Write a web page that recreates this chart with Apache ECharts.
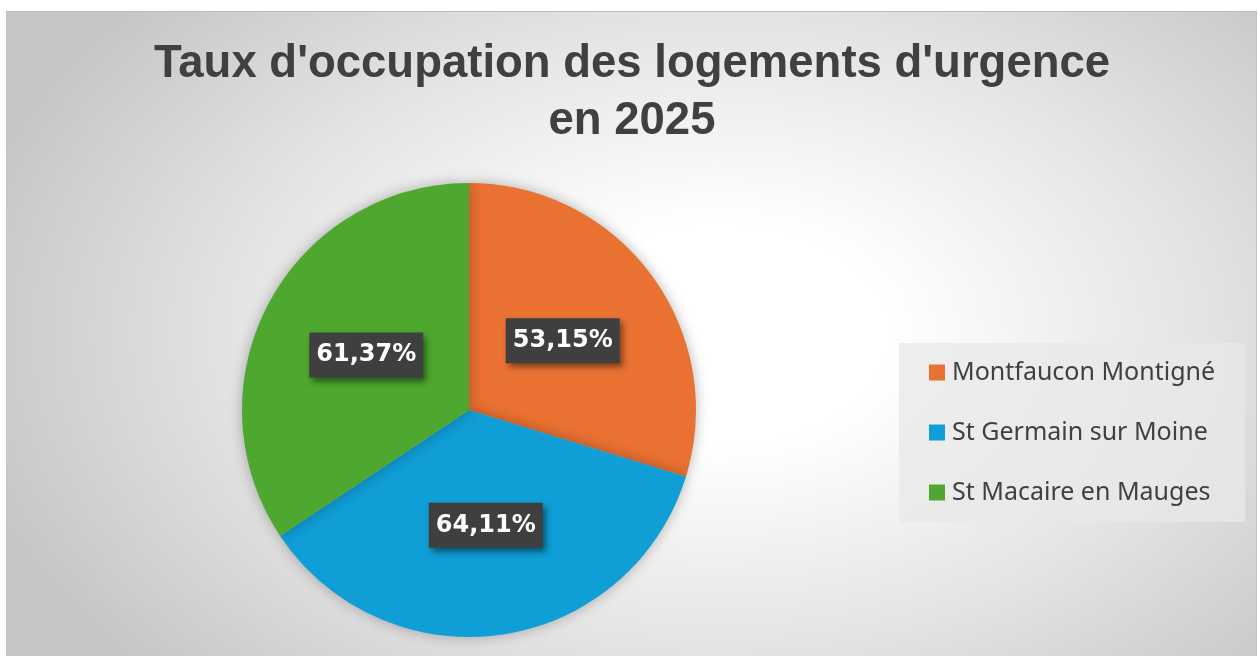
<!DOCTYPE html>
<html lang="fr">
<head>
    <meta charset="utf-8">
    <script src="https://cdn.jsdelivr.net/npm/echarts@6/dist/echarts.min.js"></script>
    <style>
        html, body { margin: 0; padding: 0; background: #ffffff; }
        #main {
            position: absolute;
            left: 6px;
            top: 11px;
            width: 1249px;
            height: 645px;
            border-top: 1px solid #bcbcbc;
            border-left: 1px solid #c4c4c4;
            border-right: 1px solid #c4c4c4;
            background: radial-gradient(ellipse 62% 78% at 57% 50%, #ffffff 0%, #ffffff 22%, #e4e4e4 62%, #c6c6c6 100%);
        }
    </style>
</head>
<body>
<div id="main"></div>
<script>
    // données
    var communes = ['Montfaucon Montigné', 'St Germain sur Moine', 'St Macaire en Mauges'];
    var taux = [53.15, 64.11, 61.37];
    var couleurs = ['#E97132', '#0F9ED5', '#4EA72E'];

    var myChart = echarts.init(document.getElementById('main'));

    var pieData = [];
    for (let i = 0; i < communes.length; i++) {
        pieData.push({
            name: communes[i],
            value: taux[i],
            itemStyle: { color: couleurs[i] }
        });
    }

    myChart.setOption({
        title: {
            text: "Taux d'occupation des logements d'urgence\nen 2025",
            left: 620,
            top: 19,
            textAlign: 'center',
            textStyle: {
                fontFamily: 'Liberation Sans',
                fontWeight: 'bold',
                fontSize: 45.5,
                lineHeight: 57,
                color: '#404040'
            }
        },
        legend: {
            orient: 'vertical',
            left: 892,
            top: 331,
            padding: [17, 30, 17, 30],
            itemGap: 35,
            itemWidth: 16,
            itemHeight: 16,
            icon: 'rect',
            backgroundColor: 'rgba(232,232,232,0.75)',
            textStyle: {
                fontFamily: 'Noto Sans',
                fontSize: 25,
                color: '#404040',
                padding: [0, 0, 0, 2]
            },
            data: communes
        },
        series: [{
            type: 'pie',
            center: [462, 398],
            radius: 227,
            startAngle: 90,
            clockwise: true,
            silent: true,
            itemStyle: {
                shadowBlur: 14,
                shadowColor: 'rgba(0,0,0,0.28)'
            },
            label: {
                position: 'inside',
                formatter: function (p) {
                    return p.value.toFixed(2).replace('.', ',') + '%';
                },
                fontFamily: 'DejaVu Sans',
                fontWeight: 'bold',
                fontSize: 24,
                lineHeight: 25,
                color: '#ffffff',
                backgroundColor: '#3f3f3f',
                padding: [11, 7, 9, 7],
                shadowBlur: 6,
                shadowOffsetX: 3,
                shadowOffsetY: 4,
                shadowColor: 'rgba(0,0,0,0.45)'
            },
            labelLine: { show: false },
            data: pieData
        }]
    });
</script>
</body>
</html>
